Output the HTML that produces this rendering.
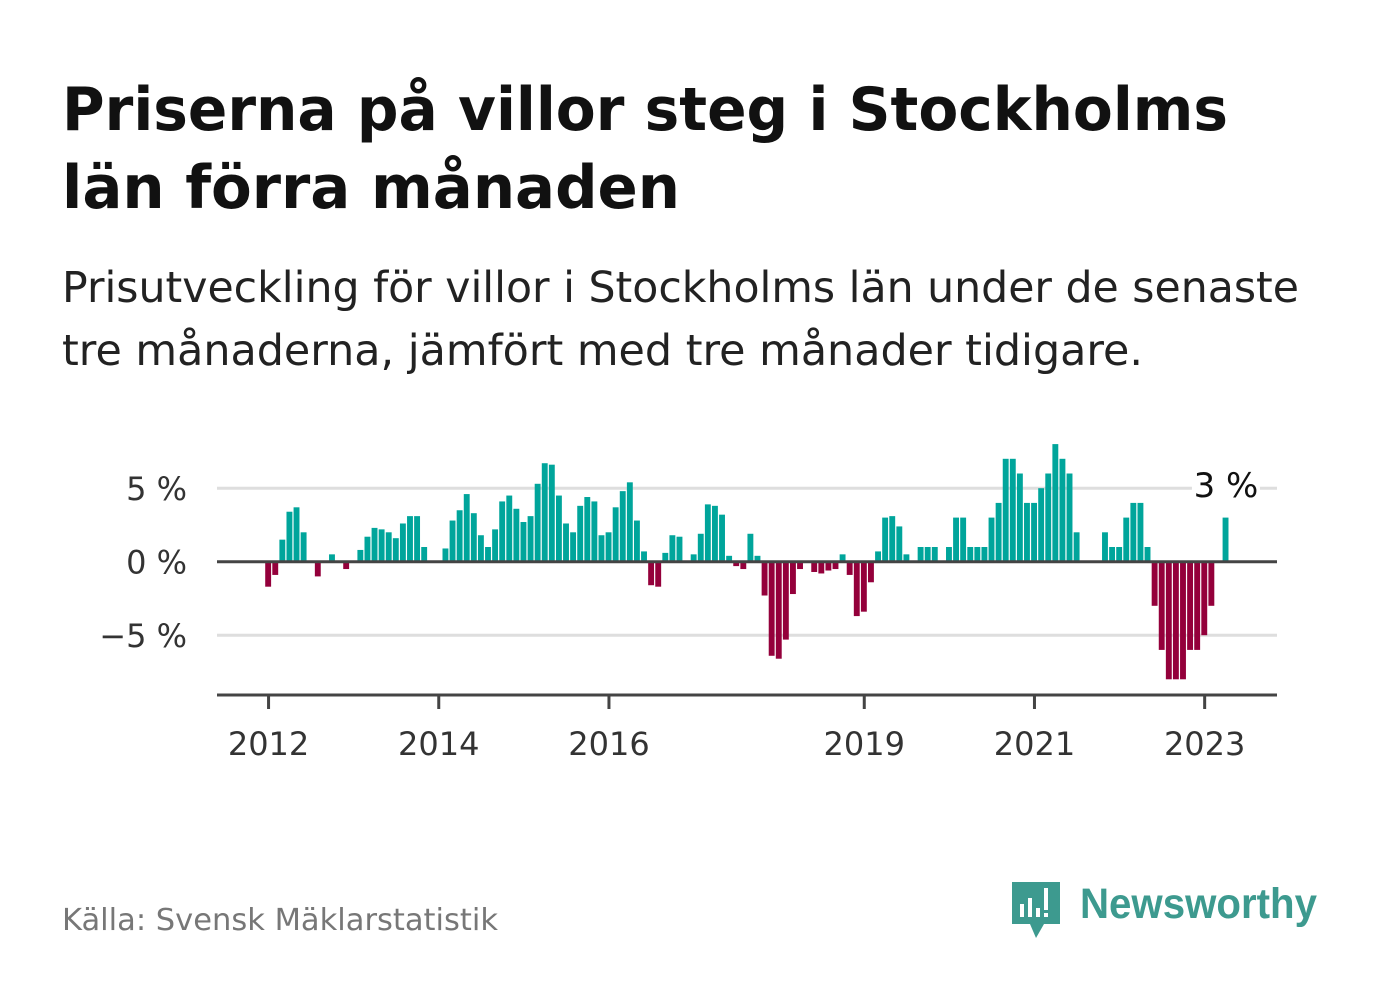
<!DOCTYPE html>
<html><head><meta charset="utf-8"><style>
html,body{margin:0;padding:0;background:#fff;}
svg{display:block;}
text{font-family:"DejaVu Sans","Liberation Sans",sans-serif;}
</style></head><body>
<svg id="chart" width="1382" height="999" viewBox="0 0 1382 999" xmlns="http://www.w3.org/2000/svg">
<text x="62" y="130" font-size="60" font-weight="bold" fill="#111" textLength="1166" lengthAdjust="spacingAndGlyphs">Priserna på villor steg i Stockholms</text>
<text x="62" y="208" font-size="60" font-weight="bold" fill="#111" textLength="618" lengthAdjust="spacingAndGlyphs">län förra månaden</text>
<text x="62" y="302" font-size="43" fill="#222" textLength="1237" lengthAdjust="spacingAndGlyphs">Prisutveckling för villor i Stockholms län under de senaste</text>
<text x="62" y="365" font-size="43" fill="#222" textLength="1081" lengthAdjust="spacingAndGlyphs">tre månaderna, jämfört med tre månader tidigare.</text>
<g id="plot"></g>
<text x="62" y="930" font-size="30" fill="#777" textLength="436" lengthAdjust="spacingAndGlyphs">Källa: Svensk Mäklarstatistik</text>
<g>
<path d="M1012 882 H1060 V924 H1044 L1036 938 L1030 924 H1012 Z" fill="#3d9a8f"/>
<rect x="1020" y="904" width="4" height="13" fill="#fff"/>
<rect x="1028" y="898" width="4" height="19" fill="#fff"/>
<rect x="1036" y="908" width="4" height="9" fill="#fff"/>
<rect x="1044" y="888" width="4" height="22" fill="#fff"/>
<rect x="1044" y="913" width="4" height="4" fill="#fff"/>
<text x="1080" y="918" font-size="43" font-weight="bold" fill="#3d9a8f" style="font-family:'Liberation Sans',sans-serif" textLength="237" lengthAdjust="spacingAndGlyphs">Newsworthy</text>
</g>
</svg>
<script>
// monthly values starting Jan 2012
const startYear = 2012;
const values = [
-1.7,-0.9,1.5,3.4,3.7,2.0,0,-1.0,0,0.5,0,-0.5,
0,0.8,1.7,2.3,2.2,2.0,1.6,2.6,3.1,3.1,1.0,0,
0,0.9,2.8,3.5,4.6,3.3,1.8,1.0,2.2,4.1,4.5,3.6,
2.7,3.1,5.3,6.7,6.6,4.5,2.6,2.0,3.8,4.4,4.1,1.8,
2.0,3.7,4.8,5.4,2.8,0.7,-1.6,-1.7,0.6,1.8,1.7,0,
0.5,1.9,3.9,3.8,3.2,0.4,-0.3,-0.5,1.9,0.4,-2.3,-6.4,
-6.6,-5.3,-2.2,-0.5,0,-0.7,-0.8,-0.6,-0.5,0.5,-0.9,-3.7,
-3.4,-1.4,0.7,3.0,3.1,2.4,0.5,0,1.0,1.0,1.0,0,
1,3,3,1,1,1,3,4,7,7,6,4,
4,5,6,8,7,6,2,0,0,0,2,1,
1,3,4,4,1,-3,-6,-8,-8,-8,-6,-6,
-5,-3,0,3
];
const yTicks = [5,0,-5];
const yTickLabels = ["5 %","0 %","−5 %"];
const xTickYears = [2012,2014,2016,2019,2021,2023];
const lastLabel = "3 %";

const X0=217, X1=1277, M0=-6.77, M1=142.7;
function xScale(m){return X0+(m-M0)/(M1-M0)*(X1-X0);}
function yScale(v){return 561.7 - v*14.7;}
const NS="http://www.w3.org/2000/svg";
const plot=document.getElementById('plot');
function mk(tag,attrs){const e=document.createElementNS(NS,tag);for(const k in attrs)e.setAttribute(k,attrs[k]);plot.appendChild(e);return e;}

yTicks.forEach((t,i)=>{
  if(t!==0){
    const g=mk('line',{x1:X0,x2:X1,y1:yScale(t),y2:yScale(t),stroke:'#dedede','stroke-width':3});
    
    
  }
  const l=mk('text',{x:187,y:yScale(t)+12,'font-size':32,fill:'#333','text-anchor':'end'});
  l.textContent=yTickLabels[i];
  
  
});

values.forEach((v,i)=>{
  if(v===0)return;
  const x=xScale(i)+0.2, w=xScale(i+1)-xScale(i)-1.2;
  const y0=yScale(0), y1=yScale(v);
  const r=mk('rect',{x:x,y:Math.min(y0,y1),width:w,height:Math.abs(y1-y0),fill:v>0?'#00a59b':'#94003b'});
  
  
});

const z=mk('line',{x1:X0,x2:X1,y1:yScale(0),y2:yScale(0),stroke:'#444','stroke-width':3});



const ax=mk('line',{x1:X0,x2:X1,y1:695,y2:695,stroke:'#444','stroke-width':3});



xTickYears.forEach(yr=>{
  const m=(yr-startYear)*12+0.5;
  const tx=xScale(m);
  const t=mk('line',{x1:tx,x2:tx,y1:695,y2:709,stroke:'#444','stroke-width':3});
  
  
  const l=mk('text',{x:tx,y:755,'font-size':32,fill:'#333','text-anchor':'middle'});
  l.textContent=String(yr);
  
  
});

const li=values.length-1;
const lx=xScale(li+0.5);
const bg=mk('rect',{x:lx-34,y:466,width:68,height:40,fill:'#fff'});


const lt=mk('text',{x:lx,y:497,'font-size':34,fill:'#111','text-anchor':'middle'});
lt.textContent=lastLabel;


</script>
</body></html>
